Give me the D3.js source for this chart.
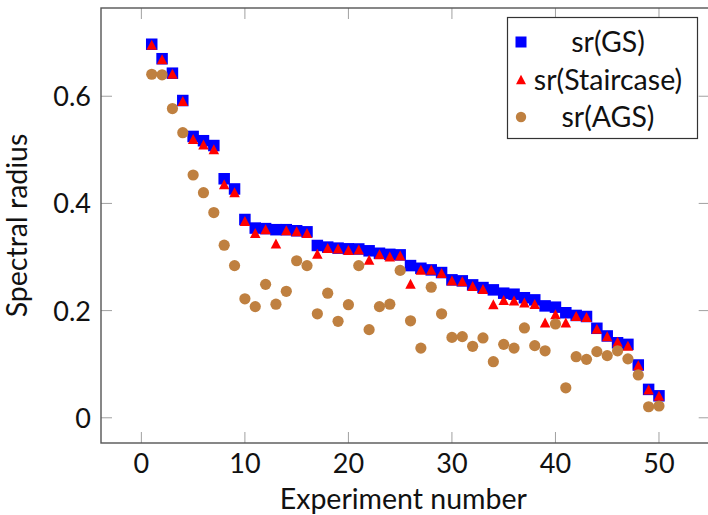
<!DOCTYPE html>
<html>
<head>
<meta charset="utf-8">
<script src="https://cdn.jsdelivr.net/npm/d3@7"></script>
<style>
  html, body { margin: 0; padding: 0; background: #fff; }
  svg { display: block; font-family: Lato, "Open Sans", sans-serif; }
</style>
</head>
<body>
<div id="chart"></div>
<script>
const width = 708;
const height = 515;

// experiment numbers 1..50
const experiments = d3.range(1, 51);

const srGS = [0.697, 0.670, 0.643, 0.592, 0.525, 0.517, 0.508, 0.446, 0.427, 0.370,
    0.354, 0.353, 0.351, 0.351, 0.349, 0.347, 0.3215, 0.3185, 0.3166, 0.3153,
    0.315, 0.3116, 0.307, 0.305, 0.304, 0.284, 0.279, 0.276, 0.271, 0.2574,
    0.2555, 0.248, 0.243, 0.2387, 0.2325, 0.2306, 0.224, 0.220, 0.2088, 0.2064,
    0.196, 0.191, 0.189, 0.167, 0.1527, 0.140, 0.137, 0.0985, 0.053, 0.041];

const srStaircase = [0.696, 0.669, 0.642, 0.591, 0.520, 0.510, 0.501, 0.436, 0.421, 0.367,
    0.345, 0.352, 0.325, 0.350, 0.348, 0.345, 0.306, 0.317, 0.316, 0.313,
    0.314, 0.295, 0.305, 0.301, 0.303, 0.250, 0.276, 0.276, 0.270, 0.256,
    0.255, 0.246, 0.2405, 0.212, 0.220, 0.219, 0.215, 0.2125, 0.1776, 0.193,
    0.1776, 0.190, 0.188, 0.166, 0.152, 0.142, 0.1346, 0.098, 0.053, 0.041];

const srAGS = [0.641, 0.640, 0.577, 0.532, 0.453, 0.420, 0.383, 0.322, 0.284, 0.222,
    0.2075, 0.249, 0.212, 0.236, 0.293, 0.284, 0.194, 0.2325, 0.180, 0.211,
    0.284, 0.1645, 0.2075, 0.212, 0.275, 0.181, 0.130, 0.2437, 0.194, 0.150,
    0.1514, 0.1334, 0.149, 0.1047, 0.137, 0.130, 0.1677, 0.1346, 0.125, 0.175,
    0.056, 0.114, 0.109, 0.1234, 0.116, 0.125, 0.110, 0.080, 0.0206, 0.022];

const xTicks = [0, 10, 20, 30, 40, 50];
const yTicks = [0, 0.2, 0.4, 0.6];
const legendLabels = ["sr(GS)", "sr(Staircase)", "sr(AGS)"];

const colGS = "#0000ff";
const colStair = "#ff0000";
const colAGS = "#bf8040";

const svg = d3.select("#chart")
    .append("svg")
    .attr("width", width)
    .attr("height", height);

// plot frame (pgfplots style, 10% enlarged limits)
const plotL = 101, plotR = 709.7, plotT = 8, plotB = 443;

const xPad = (d3.max(experiments) - d3.min(experiments)) * 0.1;
const x = d3.scaleLinear()
    .domain([d3.min(experiments) - xPad, d3.max(experiments) + xPad])
    .range([plotL, plotR]);

const allY = srGS.concat(srStaircase, srAGS);
const yMin = d3.min(allY), yMax = d3.max(allY);
const yPad = (yMax - yMin) * 0.1;
const y = d3.scaleLinear()
    .domain([yMin - yPad, yMax + yPad])
    .range([plotB, plotT]);

const tickLen = 11;
const tickCol = "#a0a0a0";

// ticks on all four sides, pointing inward
const g = svg.append("g");
xTicks.forEach(t => {
    g.append("line").attr("x1", x(t)).attr("x2", x(t))
        .attr("y1", plotB).attr("y2", plotB - tickLen)
        .attr("stroke", tickCol).attr("stroke-width", 1);
    g.append("line").attr("x1", x(t)).attr("x2", x(t))
        .attr("y1", plotT).attr("y2", plotT + tickLen)
        .attr("stroke", tickCol).attr("stroke-width", 1);
});
yTicks.forEach(t => {
    g.append("line").attr("x1", plotL).attr("x2", plotL + tickLen)
        .attr("y1", y(t)).attr("y2", y(t))
        .attr("stroke", tickCol).attr("stroke-width", 1);
    g.append("line").attr("x1", plotR).attr("x2", plotR - tickLen)
        .attr("y1", y(t)).attr("y2", y(t))
        .attr("stroke", tickCol).attr("stroke-width", 1);
});

svg.append("rect")
    .attr("x", plotL).attr("y", plotT)
    .attr("width", plotR - plotL).attr("height", plotB - plotT)
    .attr("fill", "none")
    .attr("stroke", "#555")
    .attr("stroke-width", 1.4);

// tick labels
svg.append("g").selectAll("text")
    .data(xTicks)
    .enter().append("text")
    .attr("x", d => x(d))
    .attr("y", 473)
    .attr("text-anchor", "middle")
    .attr("font-size", 27)
    .attr("fill", "#111")
    .text(d => d);

svg.append("g").selectAll("text")
    .data(yTicks)
    .enter().append("text")
    .attr("x", 91)
    .attr("y", d => y(d) + 10)
    .attr("text-anchor", "end")
    .attr("font-size", 27)
    .attr("fill", "#111")
    .text(d => d === 0 ? "0" : d.toFixed(1));

// axis titles
svg.append("text")
    .attr("x", (plotL + plotR) / 2 - 2)
    .attr("y", 509)
    .attr("text-anchor", "middle")
    .attr("font-size", 28.5)
    .attr("fill", "#111")
    .text("Experiment number");

svg.append("text")
    .attr("transform", `translate(27,${(plotT + plotB) / 2}) rotate(-90)`)
    .attr("text-anchor", "middle")
    .attr("font-size", 28.5)
    .attr("fill", "#111")
    .text("Spectral radius");

// marks
const sq = 11.5;
svg.append("g").selectAll("rect")
    .data(experiments)
    .enter().append("rect")
    .attr("x", (d, i) => x(d) - sq / 2)
    .attr("y", (d, i) => y(srGS[i]) - sq / 2)
    .attr("width", sq).attr("height", sq)
    .attr("fill", colGS);

function tri(cx, cy, w, h) {
    return `M${cx},${cy - h / 2}L${cx + w / 2},${cy + h / 2}L${cx - w / 2},${cy + h / 2}Z`;
}

svg.append("g").selectAll("path")
    .data(experiments)
    .enter().append("path")
    .attr("d", (d, i) => tri(x(d), y(srStaircase[i]), 10.5, 10))
    .attr("fill", colStair);

svg.append("g").selectAll("circle")
    .data(experiments)
    .enter().append("circle")
    .attr("cx", d => x(d))
    .attr("cy", (d, i) => y(srAGS[i]))
    .attr("r", 5.6)
    .attr("fill", colAGS);

// legend
const lg = svg.append("g");
lg.append("rect")
    .attr("x", 507.5).attr("y", 17.5)
    .attr("width", 190).attr("height", 121)
    .attr("fill", "#fff")
    .attr("stroke", "#333")
    .attr("stroke-width", 1.2);

const rows = [42, 79.5, 117];
lg.append("rect").attr("x", 521 - 5.5).attr("y", rows[0] - 5.5)
    .attr("width", 11).attr("height", 11).attr("fill", colGS);
lg.append("path").attr("d", tri(521, rows[1], 10, 9.5)).attr("fill", colStair);
lg.append("circle").attr("cx", 521).attr("cy", rows[2]).attr("r", 5.2).attr("fill", colAGS);

lg.selectAll("text")
    .data(legendLabels)
    .enter().append("text")
    .attr("x", 608)
    .attr("y", (d, i) => rows[i] + 10)
    .attr("text-anchor", "middle")
    .attr("font-size", 28.5)
    .attr("fill", "#111")
    .text(d => d);
</script>
</body>
</html>
